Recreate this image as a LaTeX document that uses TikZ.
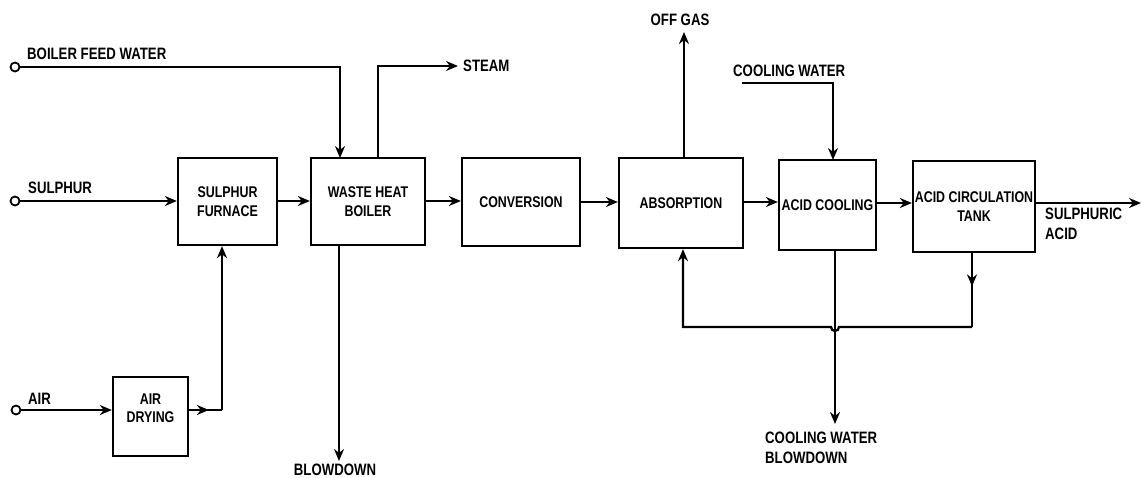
\documentclass[tikz,border=0pt]{standalone}
\usepackage{fontspec}
\setmainfont{Liberation Sans}[FakeStretch=0.8]
\usetikzlibrary{arrows.meta,decorations.markings}
\begin{document}
\begin{tikzpicture}[x=1pt,y=-1pt,
  box/.style={draw, line width=2.3pt, align=center, inner sep=1pt, font=\bfseries\fontsize{15.5}{19}\selectfont},
  lbl/.style={inner sep=0pt, align=left, font=\bfseries\fontsize{16.5}{19.5}\selectfont},
  flow/.style={line width=2.3pt, -{Stealth[length=12pt,width=10pt]}},
  pipe/.style={line width=2.3pt},
  src/.style={circle, draw, line width=1.8pt, inner sep=0pt, minimum size=9pt, fill=white},
  midarrow/.style={postaction={decorate}, decoration={markings, mark=at position #1 with {\arrow{Stealth[length=12pt,width=10pt]}}}}
]
\useasboundingbox (0,0) rectangle (1142,477);

% boxes
\node[box, minimum width=99pt, minimum height=87pt] (furn) at (227.5,201.5) {SULPHUR\\FURNACE};
\node[box, minimum width=114pt, minimum height=87pt] (whb) at (368,201.5) {WASTE HEAT\\BOILER};
\node[box, minimum width=118pt, minimum height=88pt] (conv) at (521,202) {CONVERSION};
\node[box, minimum width=124pt, minimum height=90pt] (absn) at (681,203) {ABSORPTION};
\node[box, minimum width=97pt, minimum height=90pt] (acool) at (827.5,205) {ACID COOLING};
\node[box, minimum width=122pt, minimum height=91pt] (tank) at (974,206.5) {ACID CIRCULATION\\TANK};
\node[box, minimum width=75pt, minimum height=79pt, anchor=north] (dry) at (150.5,376) {};
\node[inner sep=0pt, align=center, font=\bfseries\fontsize{15.5}{18}\selectfont] (drytxt) at (150.5,408) {AIR\\DRYING};

% sources
\node[src] (bfw) at (15,67) {};
\node[src] (sul) at (15,201) {};
\node[src] (air) at (16,410) {};

% labels
\node[lbl, anchor=south west] (lbfw) at (27,60) {BOILER FEED WATER};
\node[lbl, anchor=south west] (lsul) at (28,194) {SULPHUR};
\node[lbl, anchor=south west] (lair) at (28,405) {AIR};
\node[lbl, anchor=west] (steam) at (463,66) {STEAM};
\node[lbl, anchor=center] (offgas) at (680,20) {OFF GAS};
\node[lbl, anchor=south west] (lcw) at (733,77) {COOLING WATER};
\node[lbl, anchor=north west] (lacid) at (1045,208) {SULPHURIC\\ACID};
\node[lbl, anchor=north] (blow) at (335,464) {BLOWDOWN};
\node[lbl, anchor=north west] (cwb) at (765,432) {COOLING WATER\\BLOWDOWN};

% coordinates
\coordinate (cwstart) at (742,83);
\coordinate (acidend) at (1141,203);
\coordinate (offend) at (684,32);
\coordinate (blowend) at (339,461);
\coordinate (cwbend) at (835,424);
\coordinate (r1) at (972,327);
\coordinate (r2) at (683,327);
\coordinate (aircorner) at (222,410);
\coordinate (steamend) at (458,66);

% flows
\draw[flow] (bfw.east) -- (340,67) -- (340,158);
\draw[flow] (378,158) -- (378,66) -- (steamend);
\draw[flow] (sul.east) -- (sul.east -| furn.west);
\draw[flow] (furn.east |- 0,201) -- (whb.west |- 0,201);
\draw[flow] (whb.east |- 0,201) -- (conv.west |- 0,201);
\draw[flow] (conv.east |- 0,202) -- (absn.west |- 0,202);
\draw[flow] (absn.east |- 0,202) -- (acool.west |- 0,202);
\draw[flow] (acool.east |- 0,203) -- (tank.west |- 0,203);
\draw[flow] (tank.east |- acidend) -- (acidend);
\draw[flow] (air.east) -- (air.east -| dry.west);
\draw[pipe, midarrow=0.6] (dry.east |- aircorner) -- (aircorner);
\draw[flow] (aircorner) -- (aircorner |- furn.south);
\draw[flow] (whb.south -| blowend) -- (blowend);
\draw[flow] (absn.north -| offend) -- (offend);
\draw[flow] (cwstart) -- (833,83) -- (833,160);
\draw[flow] (acool.south -| cwbend) -- (cwbend);
\draw[pipe, midarrow=0.45] (tank.south -| r1) -- (r1);
\draw[flow] (r1) -- (839,327) arc[start angle=0, end angle=180, radius=4] -- (r2) -- (r2 |- absn.south);
\end{tikzpicture}
\end{document}
